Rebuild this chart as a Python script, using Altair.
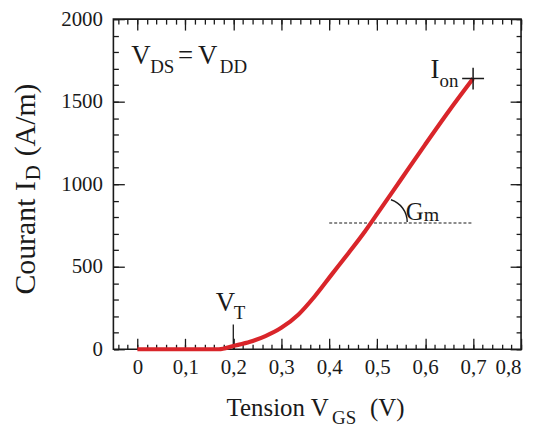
import altair as alt
import pandas as pd

# ---- data ----
vgs = [0, 0.05, 0.1, 0.15, 0.17, 0.2, 0.235, 0.267, 0.3, 0.336, 0.37, 0.405,
       0.44, 0.474, 0.5, 0.55, 0.6, 0.65, 0.7]
i_d = [0, 0, 0, 0, 0, 20, 45, 80, 130, 211, 321, 452,
       582, 712, 820, 1030, 1240, 1445, 1640]

x_major = [0, 0.1, 0.2, 0.3, 0.4, 0.5, 0.6, 0.7, 0.8]
x_minor = [round(-0.04 + 0.02 * k, 2) for k in range(43)]
y_major = [0, 500, 1000, 1500, 2000]
y_minor = list(range(0, 2001, 100))

# annotation texts (pieces, for subscripts)
txt = ["V", "DS", "=", "V", "DD", "I", "on", "G", "m", "V", "T",
       "Tension V", "GS", "(V)", "Courant I", "D", "(A/m)"]
tx = [-0.0127, 0.0267, 0.0848, 0.1263, 0.1718, 0.6113, 0.63, 0.5595, 0.597,
      0.1635, 0.2008, 0.186, 0.406, 0.485, -0.2138, -0.2034, -0.2138]
ty = [1729, 1675, 1729, 1729, 1675, 1645, 1590, 783, 777, 229, 181,
      -404, -452, -404, 331, 1024, 1169]
tsize = [27, 19, 27, 27, 19, 27, 19, 25, 20, 27, 19, 25, 19, 25, 30, 21, 30]
tangle = [0] * 14 + [270, 270, 270]

# markers
vt_x, vt_y = 0.2, 150
gm_line_x, gm_line_x2, gm_line_y = 0.4, 0.7, 765
ion_x, ion_y = 0.7, 1640
arc_x, arc_y = 0.5139, 771

FONT = "Liberation Serif"
RED = "#d9252a"
INK = "#1a1a1a"

curve_df = pd.DataFrame({"v": vgs, "i": i_d})
text_df = pd.DataFrame({"x": tx, "y": ty, "t": txt, "fs": tsize, "ang": tangle})

xs = alt.Scale(domain=[-0.05, 0.8], nice=False, zero=False)
ys = alt.Scale(domain=[0, 2000], nice=False, zero=False)

base = alt.Chart(curve_df)

curve = base.mark_line(color=RED, strokeWidth=4.2, interpolate="monotone").encode(
    x=alt.X("v:Q", scale=xs, axis=alt.Axis(
        orient="bottom", values=x_major, ticks=False, tickSize=0, domain=False,
        grid=False, title=None, labelFont=FONT, labelFontSize=21,
        labelColor=INK, labelPadding=7,
        labelExpr="datum.value == 0 ? '0' : replace(format(datum.value, '.1f'), '.', ',')")),
    y=alt.Y("i:Q", scale=ys, axis=alt.Axis(
        orient="left", values=y_major, ticks=False, tickSize=0, domain=False,
        grid=False, title=None, labelFont=FONT, labelFontSize=21,
        labelColor=INK, labelPadding=11, format="d")),
)


def tick_layer(xvals, yvals, size, xorient, yorient):
    return base.mark_point(opacity=0).encode(
        x=alt.X("v:Q", scale=xs, axis=alt.Axis(
            orient=xorient, offset=-332, values=xvals, tickSize=size,
            tickColor=INK, tickWidth=1.3, labels=False, domain=False,
            grid=False, title=None)),
        y=alt.Y("i:Q", scale=ys, axis=alt.Axis(
            orient=yorient, offset=-410, values=yvals, tickSize=size,
            tickColor=INK, tickWidth=1.3, labels=False, domain=False,
            grid=False, title=None)),
    )


t1 = tick_layer(x_major, y_major, 11, "top", "right")
t2 = tick_layer(x_major, y_major, 11, "bottom", "left")
t3 = tick_layer(x_minor, y_minor, 5, "top", "right")
t4 = tick_layer(x_minor, y_minor, 5, "bottom", "left")

ann = pd.DataFrame({
    "x": [vt_x, gm_line_x], "x2": [vt_x, gm_line_x2],
    "y": [0, gm_line_y], "y2": [vt_y, gm_line_y],
})

vt_rule = alt.Chart(ann.iloc[[0]]).mark_rule(color=INK, strokeWidth=1.3).encode(
    x=alt.X("x:Q", scale=xs, axis=None),
    y=alt.Y("y:Q", scale=ys, axis=None),
    y2="y2:Q",
)
gm_rule = alt.Chart(ann.iloc[[1]]).mark_rule(
    color=INK, strokeWidth=1.2, strokeDash=[3, 2]).encode(
    x=alt.X("x:Q", scale=xs, axis=None),
    x2="x2:Q",
    y=alt.Y("y:Q", scale=ys, axis=None),
)

ion_df = pd.DataFrame({"x": [ion_x], "y": [ion_y]})
ion = alt.Chart(ion_df).mark_point(
    shape="M -1 0 L 1 0 M 0 -1 L 0 1", size=484, filled=False,
    color=INK, strokeWidth=1.5, opacity=1).encode(
    x=alt.X("x:Q", scale=xs, axis=None),
    y=alt.Y("y:Q", scale=ys, axis=None),
)

arc_df = pd.DataFrame({"x": [arc_x], "y": [arc_y]})
arc = alt.Chart(arc_df).mark_arc(
    radius=23.5, radius2=23.5, theta=0.31, theta2=1.5708,
    fill=None, stroke=INK, strokeWidth=1.4).encode(
    x=alt.X("x:Q", scale=xs, axis=None),
    y=alt.Y("y:Q", scale=ys, axis=None),
)

texts = alt.Chart(text_df).mark_text(
    font=FONT, color=INK, align="left", baseline="alphabetic").encode(
    x=alt.X("x:Q", scale=xs, axis=None),
    y=alt.Y("y:Q", scale=ys, axis=None),
    text="t:N",
    size=alt.Size("fs:Q", scale=None),
    angle=alt.Angle("ang:Q", scale=None),
)

chart = alt.layer(
    t1, t2, t3, t4, gm_rule, vt_rule, arc, curve, ion, texts
).resolve_scale(
    x="independent", y="independent"
).resolve_axis(
    x="independent", y="independent"
).properties(
    width=410, height=332,
    autosize=alt.AutoSizeParams(type="none"),
    padding={"left": 106, "top": 10, "right": 10, "bottom": 80},
).configure(
    font=FONT, background="white"
).configure_axis(
    labelFont=FONT, labelFontSize=21, labelColor=INK
).configure_view(
    stroke=INK, strokeWidth=1.6
)

chart.save("out.html", embed_options={"renderer": "svg", "actions": False})
